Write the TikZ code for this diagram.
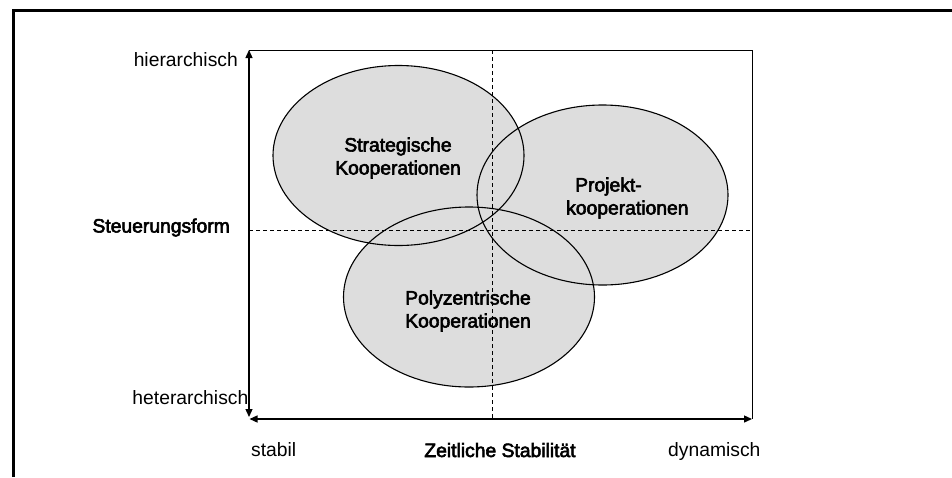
\documentclass[tikz,border=0pt]{standalone}
\usepackage{fontspec}
\setmainfont{Liberation Sans}
\newfontfamily\heavy[FakeBold=3]{Liberation Sans}
\usepackage{tikz}
\usetikzlibrary{arrows.meta,shapes.geometric}

\definecolor{cloudgray}{RGB}{221,221,221}

\tikzset{
    lbl/.style={inner sep=0pt, font=\fontsize{19.3}{23}\selectfont},
    inlbl/.style={lbl, align=center, font=\fontsize{19.3}{23}\selectfont\heavy},
    cloud/.style={ellipse, fill=cloudgray, inner sep=0pt,
        minimum width=251pt, minimum height=180pt},
    axis/.style={line width=1.3pt, {Triangle[length=8pt,width=7pt]}-{Triangle[length=8pt,width=7pt]}},
    grid/.style={line width=0.8pt, dash pattern=on 4pt off 3pt},
}

\begin{document}
\begin{tikzpicture}[x=1pt, y=-1pt]
            \useasboundingbox (0,0) rectangle (952,477);

            % outer frame
            \draw[line width=2.5pt] (13.5,477) -- (13.5,10.5) -- (952,10.5);

            % corners of the diagram
            \coordinate (bl) at (249,419);
            \coordinate (tl) at (249,50);
            \coordinate (tr) at (752,50);
            \coordinate (br) at (752,419);
            \coordinate (bv) at (249,417);
            \coordinate (bh) at (249.5,419);
            \coordinate (mt) at (492.5,50);
            \coordinate (mb) at (492.5,419);
            \coordinate (ml) at (249,230);
            \coordinate (mr) at (752,230);

            % the three clusters
            \node[cloud] (strat) at (398.5,155.5) {};
            \node[cloud] (proj) at (602.5,195) {};
            \node[cloud] (poly) at (469,297) {};
            \foreach \c in {strat,proj,poly}
                \draw[line width=1.1pt] (\c.center) ellipse (125.5 and 90);

            \node[inlbl] (stratlbl) at (398,158) {Strategische\\Kooperationen};
            \node[inlbl, align=left, anchor=west] (projlbl) at (566,198) {\hspace*{9pt}Projekt-\\kooperationen};
            \node[inlbl] (polylbl) at (468,311) {Polyzentrische\\Kooperationen};

            % box and axes
            \draw[line width=0.9pt] (tl) -- (tr) -- (br);
            \draw[axis] (bv) -- (tl);
            \draw[axis] (bh) -- (br);
            \draw[grid] (mt) -- (mb);
            \draw[grid] (ml) -- (mr);

            % axis labels
            \node[lbl, anchor=base east] (hier) at (238,66) {hierarchisch};
            \node[lbl, anchor=base east] (hetero) at (248.5,404.5) {heterarchisch};
            \node[lbl, anchor=base east] (steuer) at (230,232.5) {\heavy Steuerungsform};
            \node[lbl, anchor=base west] (stabil) at (251,456.5) {stabil};
            \node[lbl, anchor=base] (zeit) at (500,457) {\heavy Zeitliche Stabilität};
            \node[lbl, anchor=base west] (dyn) at (668,456.5) {dynamisch};
        \end{tikzpicture}
\end{document}
